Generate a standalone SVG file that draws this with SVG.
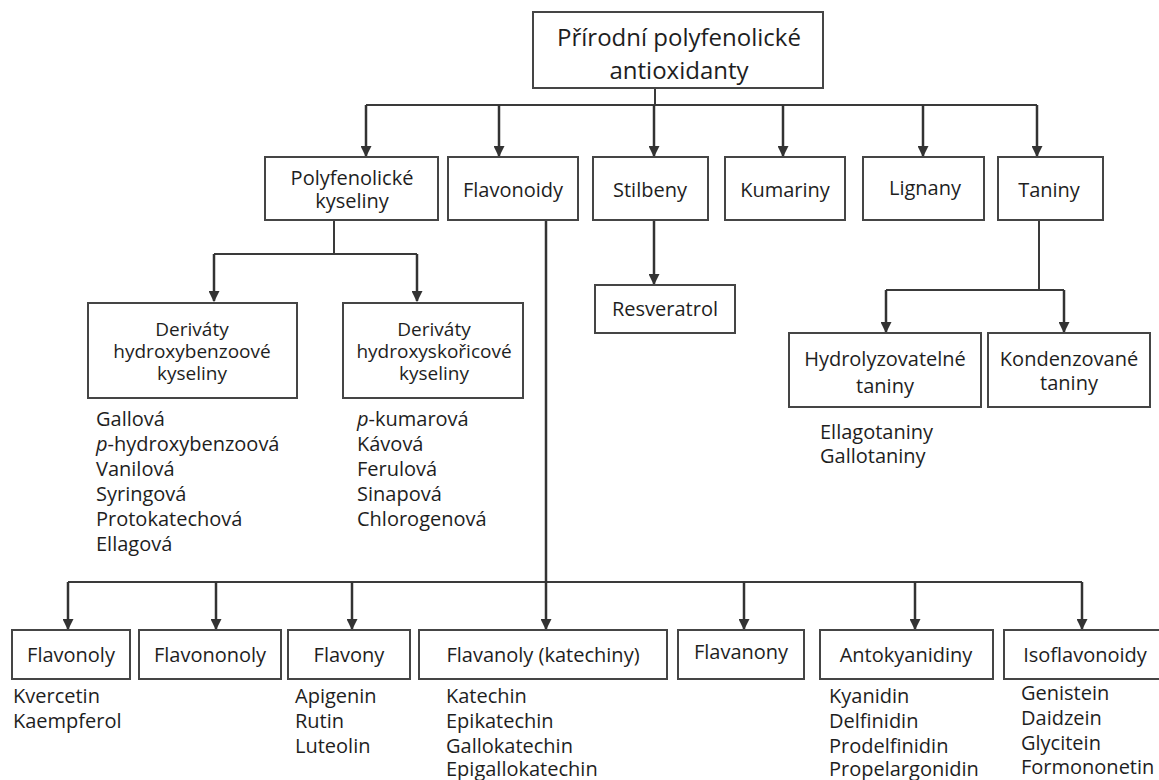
<svg xmlns="http://www.w3.org/2000/svg" width="1159" height="780" viewBox="0 0 1159 780">
<defs>
<style>
.box{fill:#fff;stroke:#454545;stroke-width:2}
.t{font-family:"Open Sans","DejaVu Sans",sans-serif;font-size:20px;fill:#1e1e1e}
.c{text-anchor:middle}
.s{font-size:19px}
.title{font-size:24px}
.ln{fill:none;stroke:#3a3a3a;stroke-width:2}
.ar{fill:none;stroke:#333;stroke-width:2.5;marker-end:url(#ah)}
</style>
<marker id="ah" viewBox="0 0 10 10" refX="9" refY="5" markerWidth="4.4" markerHeight="4.4" markerUnits="strokeWidth" orient="auto">
<path d="M0,0 L10,5 L0,10 z" fill="#333"/>
</marker>
</defs>
<rect width="1159" height="780" fill="#fff"/>

<g id="connectors">
<path class="ln" d="M655,88 V105 M366,105 H1037"/>
<path class="ar" d="M366,105 V156"/>
<path class="ar" d="M499,105 V156"/>
<path class="ar" d="M654,105 V156"/>
<path class="ar" d="M783,105 V156"/>
<path class="ar" d="M923,105 V156"/>
<path class="ar" d="M1037,105 V156"/>
<path class="ln" d="M334,220 V254 M214,254 H417"/>
<path class="ar" d="M214,254 V301"/>
<path class="ar" d="M417,254 V301"/>
<path class="ar" d="M654,220 V284"/>
<path class="ln" d="M1039,220 V290 M886,290 H1064"/>
<path class="ar" d="M886,290 V332"/>
<path class="ar" d="M1064,290 V332"/>
<path class="ln" d="M68,582 H1082"/>
<path class="ar" d="M546,220 V629"/>
<path class="ar" d="M68,582 V629"/>
<path class="ar" d="M216,582 V629"/>
<path class="ar" d="M352,582 V629"/>
<path class="ar" d="M744,582 V629"/>
<path class="ar" d="M915,582 V629"/>
<path class="ar" d="M1082,582 V629"/>
</g>

<g id="root">
<rect class="box" x="533" y="12" width="290" height="76"/>
<text class="t c title" x="679" y="46">Přírodní polyfenolické</text>
<text class="t c title" x="679" y="79">antioxidanty</text>
</g>

<g id="polyfenolicke-kyseliny">
<rect class="box" x="265" y="157" width="173" height="63"/>
<text class="t c" x="352" y="185">Polyfenolické</text>
<text class="t c" x="352" y="208">kyseliny</text>
</g>
<g id="flavonoidy">
<rect class="box" x="448" y="157" width="130" height="63"/>
<text class="t c" x="513" y="197">Flavonoidy</text>
</g>
<g id="stilbeny">
<rect class="box" x="593" y="157" width="115" height="63"/>
<text class="t c" x="650" y="197">Stilbeny</text>
</g>
<g id="kumariny">
<rect class="box" x="725" y="157" width="120" height="63"/>
<text class="t c" x="785" y="197">Kumariny</text>
</g>
<g id="lignany">
<rect class="box" x="863" y="157" width="121" height="63"/>
<text class="t c" x="925" y="195">Lignany</text>
</g>
<g id="taniny">
<rect class="box" x="998" y="157" width="105" height="63"/>
<text class="t c" x="1049" y="197">Taniny</text>
</g>

<g id="hydroxybenzoove">
<rect class="box" x="88" y="303" width="209" height="95"/>
<text class="t c s" x="192" y="336">Deriváty</text>
<text class="t c s" x="192" y="358">hydroxybenzoové</text>
<text class="t c s" x="192" y="380">kyseliny</text>
<text class="t" x="96" y="426">Gallová</text>
<text class="t" x="96" y="451"><tspan font-style="italic">p</tspan>-hydroxybenzoová</text>
<text class="t" x="96" y="476">Vanilová</text>
<text class="t" x="96" y="501">Syringová</text>
<text class="t" x="96" y="526">Protokatechová</text>
<text class="t" x="96" y="551">Ellagová</text>
</g>

<g id="hydroxyskoricove">
<rect class="box" x="343" y="303" width="180" height="95"/>
<text class="t c s" x="434" y="336">Deriváty</text>
<text class="t c s" x="434" y="358">hydroxyskořicové</text>
<text class="t c s" x="434" y="380">kyseliny</text>
<text class="t" x="357" y="426"><tspan font-style="italic">p</tspan>-kumarová</text>
<text class="t" x="357" y="451">Kávová</text>
<text class="t" x="357" y="476">Ferulová</text>
<text class="t" x="357" y="501">Sinapová</text>
<text class="t" x="357" y="526">Chlorogenová</text>
</g>

<g id="resveratrol">
<rect class="box" x="595" y="285" width="140" height="48"/>
<text class="t c" x="665" y="316">Resveratrol</text>
</g>

<g id="hydrolyzovatelne">
<rect class="box" x="789" y="333" width="192" height="74"/>
<text class="t c" x="885" y="366">Hydrolyzovatelné</text>
<text class="t c" x="885" y="393">taniny</text>
<text class="t" x="820" y="439">Ellagotaniny</text>
<text class="t" x="820" y="463">Gallotaniny</text>
</g>
<g id="kondenzovane">
<rect class="box" x="988" y="333" width="162" height="74"/>
<text class="t c" x="1069" y="366">Kondenzované</text>
<text class="t c" x="1069" y="390">taniny</text>
</g>

<g id="flavonoly">
<rect class="box" x="12" y="630" width="118" height="49"/>
<text class="t c" x="71" y="662">Flavonoly</text>
<text class="t" x="13" y="703">Kvercetin</text>
<text class="t" x="13" y="728">Kaempferol</text>
</g>
<g id="flavononoly">
<rect class="box" x="139" y="630" width="142" height="49"/>
<text class="t c" x="210" y="662">Flavononoly</text>
</g>
<g id="flavony">
<rect class="box" x="288" y="630" width="122" height="49"/>
<text class="t c" x="349" y="662">Flavony</text>
<text class="t" x="295" y="703">Apigenin</text>
<text class="t" x="295" y="728">Rutin</text>
<text class="t" x="295" y="753">Luteolin</text>
</g>
<g id="flavanoly">
<rect class="box" x="419" y="630" width="248" height="49"/>
<text class="t c" x="543" y="662">Flavanoly (katechiny)</text>
<text class="t" x="446" y="703">Katechin</text>
<text class="t" x="446" y="728">Epikatechin</text>
<text class="t" x="446" y="753">Gallokatechin</text>
<text class="t" x="446" y="776">Epigallokatechin</text>
</g>
<g id="flavanony">
<rect class="box" x="678" y="630" width="126" height="49"/>
<text class="t c" x="741" y="659">Flavanony</text>
</g>
<g id="antokyanidiny">
<rect class="box" x="820" y="630" width="173" height="49"/>
<text class="t c" x="906" y="662">Antokyanidiny</text>
<text class="t" x="829" y="703">Kyanidin</text>
<text class="t" x="829" y="728">Delfinidin</text>
<text class="t" x="829" y="753">Prodelfinidin</text>
<text class="t" x="829" y="776">Propelargonidin</text>
</g>
<g id="isoflavonoidy">
<rect class="box" x="1004" y="630" width="162" height="49"/>
<text class="t c" x="1085" y="662">Isoflavonoidy</text>
<text class="t" x="1021" y="700">Genistein</text>
<text class="t" x="1021" y="725">Daidzein</text>
<text class="t" x="1021" y="750">Glycitein</text>
<text class="t" x="1021" y="774">Formononetin</text>
</g>
</svg>
